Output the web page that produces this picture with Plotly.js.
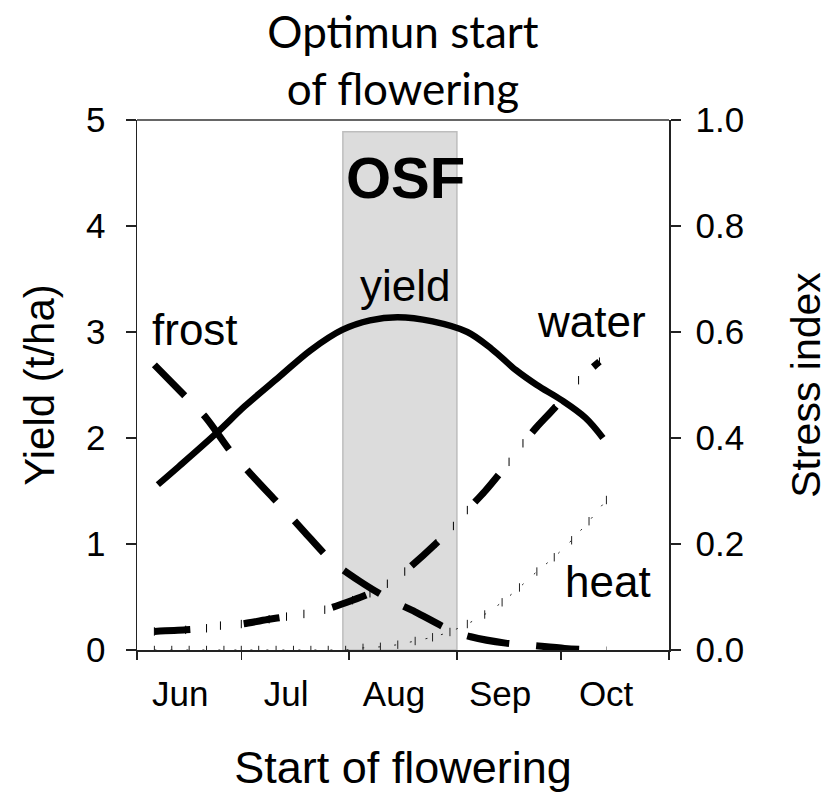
<!DOCTYPE html>
<html>
<head>
<meta charset="utf-8">
<script src="https://cdn.plot.ly/plotly-3.0.1.min.js"></script>
<style>html,body{margin:0;padding:0;background:#fff;}#chart{width:831px;height:801px;}</style>
</head>
<body>
<div id="chart"></div>
<script>
// ---- data ----
const monthTicks = ['Jun', 'Jul', 'Aug', 'Sep', 'Oct'];

const yieldDates = ['2000-06-07','2000-06-13','2000-06-24','2000-07-02','2000-07-12','2000-07-21','2000-07-30','2000-08-07','2000-08-15','2000-08-25','2000-09-04','2000-09-11','2000-09-18','2000-09-24','2000-10-01','2000-10-08','2000-10-13'];
const yieldValues = [1.56, 1.73, 2.05, 2.30, 2.58, 2.83, 3.02, 3.11, 3.14, 3.10, 3.00, 2.84, 2.64, 2.50, 2.36, 2.19, 2.00];

const frostDates = ['2000-06-06','2000-06-15','2000-06-21','2000-06-28','2000-07-04','2000-07-13','2000-07-19','2000-07-27','2000-08-04','2000-08-13','2000-08-20','2000-08-30','2000-09-05','2000-09-15','2000-09-22','2000-10-02','2000-10-08','2000-10-14'];
const frostValues = [0.538, 0.478, 0.437, 0.374, 0.330, 0.267, 0.224, 0.168, 0.130, 0.094, 0.072, 0.038, 0.025, 0.013, 0.009, 0.003, 0.001, 0.0];

const waterDates = ['2000-06-06','2000-06-15','2000-06-21','2000-06-25','2000-07-01','2000-07-09','2000-07-14','2000-07-19','2000-07-25','2000-08-02','2000-08-07','2000-08-12','2000-08-17','2000-08-26','2000-08-31','2000-09-04','2000-09-09','2000-09-16','2000-09-20','2000-09-24','2000-09-29','2000-10-06','2000-10-12'];
const waterValues = [0.035, 0.038, 0.041, 0.046, 0.049, 0.058, 0.063, 0.068, 0.076, 0.094, 0.107, 0.125, 0.148, 0.201, 0.234, 0.264, 0.299, 0.355, 0.390, 0.421, 0.456, 0.509, 0.544];

const heatDates = ['2000-06-06','2000-06-11','2000-06-16','2000-06-21','2000-06-26','2000-07-01','2000-07-06','2000-07-11','2000-07-16','2000-07-21','2000-07-26','2000-07-31','2000-08-05','2000-08-10','2000-08-15','2000-08-20','2000-08-25','2000-08-30','2000-09-04','2000-09-09','2000-09-14','2000-09-19','2000-09-24','2000-09-29','2000-10-04','2000-10-09','2000-10-14'];
const heatValues = [0, 0, 0, 0, 0, 0, 0, 0, 0, 0, 0, 0, 0.004, 0.006, 0.010, 0.017, 0.024, 0.034, 0.049, 0.067, 0.090, 0.118, 0.148, 0.175, 0.207, 0.243, 0.283];

const osfWindow = ['2000-07-30 05:00', '2000-09-01'];
const osfTop = 4.89;

// ---- chart ----
const FONT = 'Liberation Sans, Arial, sans-serif';

const traces = [
  {
    x: heatDates, y: heatValues, yaxis: 'y2', name: 'heat', type: 'scatter',
    mode: 'lines+markers',
    line: {color: '#222', width: 1, dash: '2px,14px'},
    marker: {symbol: 'line-ns-open', size: 6, line: {color: '#333', width: 1}},
    showlegend: false, hoverinfo: 'skip'
  },
  {
    x: waterDates, y: waterValues, yaxis: 'y2', name: 'water', type: 'scatter',
    mode: 'lines+markers',
    line: {color: '#000', width: 7, dash: '36px,54px', shape: 'spline', smoothing: 0.8},
    marker: {symbol: 'line-ns-open', size: 6, line: {color: '#333', width: 1}},
    showlegend: false
  },
  {
    x: frostDates, y: frostValues, yaxis: 'y2', name: 'frost', type: 'scatter',
    mode: 'lines',
    line: {color: '#000', width: 7, dash: '43px,27px', shape: 'spline', smoothing: 0.8},
    showlegend: false
  },
  {
    x: yieldDates, y: yieldValues, yaxis: 'y', name: 'yield', type: 'scatter',
    mode: 'lines',
    line: {color: '#000', width: 6.5, shape: 'spline', smoothing: 1},
    showlegend: false
  }
];

const layout = {
  width: 831, height: 801,
  margin: {l: 137, r: 162, t: 120, b: 151},
  paper_bgcolor: '#fff', plot_bgcolor: '#fff',
  font: {family: FONT, color: '#000', size: 35},
  showlegend: false,
  title: {
    text: 'Optimun start<br>of flowering',
    font: {family: 'Lato, Noto Sans, sans-serif', size: 44, color: '#000'},
    x: 0.5, xref: 'paper', xanchor: 'center',
    y: 0.94, yref: 'container', yanchor: 'top'
  },
  xaxis: {
    type: 'date',
    range: ['2000-06-01', '2000-11-01'],
    tick0: '2000-06-01', dtick: 'M1',
    ticklabelmode: 'period', tickformat: '%b',
    ticklabelshift: -9,
    ticks: 'outside', ticklen: 8, tickwidth: 1.5, tickcolor: '#222',
    showline: true, linecolor: '#222', linewidth: 1.5,
    showgrid: false, zeroline: false,
    tickfont: {family: FONT, size: 35},
    ticklabelstandoff: 4,
    title: {text: 'Start of flowering', font: {family: FONT, size: 45}, standoff: 40},
    automargin: false, fixedrange: true
  },
  yaxis: {
    range: [0, 5], dtick: 1, tick0: 0,
    ticks: 'outside', ticklen: 10, tickwidth: 1.5, tickcolor: '#222',
    showline: true, linecolor: '#222', linewidth: 1.5,
    showgrid: false, zeroline: false,
    tickfont: {family: FONT, size: 35},
    ticklabelstandoff: 13,
    title: {text: 'Yield (t/ha)', font: {family: FONT, size: 42}, standoff: 18},
    automargin: false, fixedrange: true
  },
  yaxis2: {
    overlaying: 'y', side: 'right',
    range: [0, 1], dtick: 0.2, tick0: 0, tickformat: '.1f',
    ticks: 'outside', ticklen: 10, tickwidth: 1.5, tickcolor: '#222',
    showline: true, linecolor: '#222', linewidth: 1.5,
    showgrid: false, zeroline: false,
    tickfont: {family: FONT, size: 35},
    ticklabelstandoff: 8,
    title: {text: 'Stress index', font: {family: FONT, size: 41}, standoff: 48},
    automargin: false, fixedrange: true
  },
  shapes: [
    {type: 'rect', layer: 'below', xref: 'x', yref: 'y',
     x0: osfWindow[0], x1: osfWindow[1], y0: 0, y1: osfTop,
     fillcolor: '#dcdcdc', line: {color: '#bdbdbd', width: 1.5}},
    {type: 'line', xref: 'paper', yref: 'paper', x0: 0, x1: 1, y0: 1, y1: 1,
     line: {color: '#666', width: 2}}
  ],
  annotations: [
    {text: '<b>OSF</b>', xref: 'paper', yref: 'paper', x: 0.505, y: 0.892,
     xanchor: 'center', yanchor: 'middle', showarrow: false,
     font: {family: FONT, size: 58, color: '#000'}},
    {text: 'yield', xref: 'paper', yref: 'paper', x: 0.504, y: 0.688,
     xanchor: 'center', yanchor: 'middle', showarrow: false,
     font: {family: FONT, size: 44, color: '#000'}},
    {text: 'frost', xref: 'paper', yref: 'paper', x: 0.024, y: 0.605,
     xanchor: 'left', yanchor: 'middle', showarrow: false,
     font: {family: FONT, size: 44, color: '#000'}},
    {text: 'water', xref: 'paper', yref: 'paper', x: 0.96, y: 0.62,
     xanchor: 'right', yanchor: 'middle', showarrow: false,
     font: {family: FONT, size: 44, color: '#000'}},
    {text: 'heat', xref: 'paper', yref: 'paper', x: 0.97, y: 0.13,
     xanchor: 'right', yanchor: 'middle', showarrow: false,
     font: {family: FONT, size: 44, color: '#000'}}
  ]
};

Plotly.newPlot('chart', traces, layout, {displayModeBar: false, staticPlot: true});
</script>
</body>
</html>
